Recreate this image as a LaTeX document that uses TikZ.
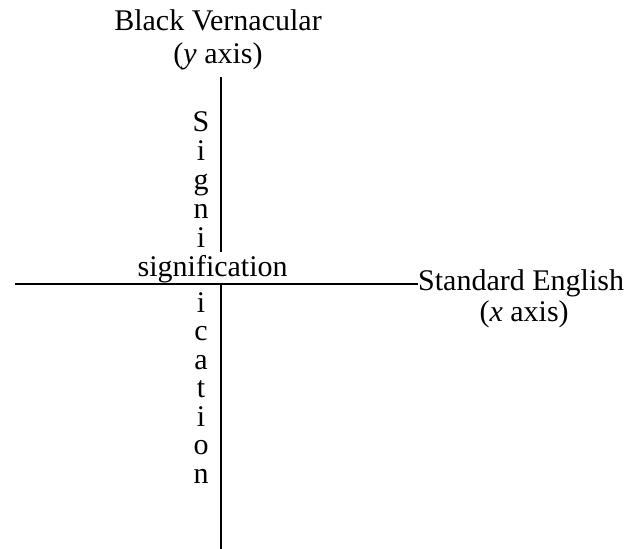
\documentclass[tikz,border=0pt]{standalone}
\usepackage{fontspec}
\setmainfont{Liberation Serif}
\usetikzlibrary{positioning}

\begin{document}
\begin{tikzpicture}[
    x=1pt,y=-1pt,
    node distance=4pt,
    lbl/.style={font=\fontsize{30}{34}\selectfont,inner sep=0pt},
    letter/.style={lbl,anchor=base},
    axis/.style={line width=1.8pt,draw=black}
  ]
  \useasboundingbox (0,0) rectangle (643,549);
  % axes end points
  \coordinate (ytop) at (221,77);
  \coordinate (ybot) at (221,549);
  \coordinate (xleft) at (15,284);

  % the word across, its f in the column
  \node[letter] (signif) at (201,276) {\llap{signi}f\rlap{ication}};
  \foreach \ch [count=\k] in {S,i,g,n,i}
    \node[letter] (up\k) at (201,102+29*\k) {\ch};
  \foreach \ch [count=\k] in {i,c,a,t,i,o,n}
    \node[letter] (dn\k) at (201,283.5+28.5*\k) {\ch};

  \node[lbl,anchor=base west] (xname) at (418,290) {Standard English};
  \node[lbl,below=of xname,xshift=3pt] (xaxis) {(\textit{x} axis)};
  \node[lbl,anchor=base] (yname) at (218,30) {Black Vernacular};
  \node[lbl,below=12pt of yname] (yaxis) {(\textit{y} axis)};

  \draw[axis] (xleft) -- (xleft -| xname.west);
  \draw[axis] (ytop) -- (ytop |- 0,252);
  \draw[axis] (ytop |- xleft) -- (ybot);
\end{tikzpicture}
\end{document}
